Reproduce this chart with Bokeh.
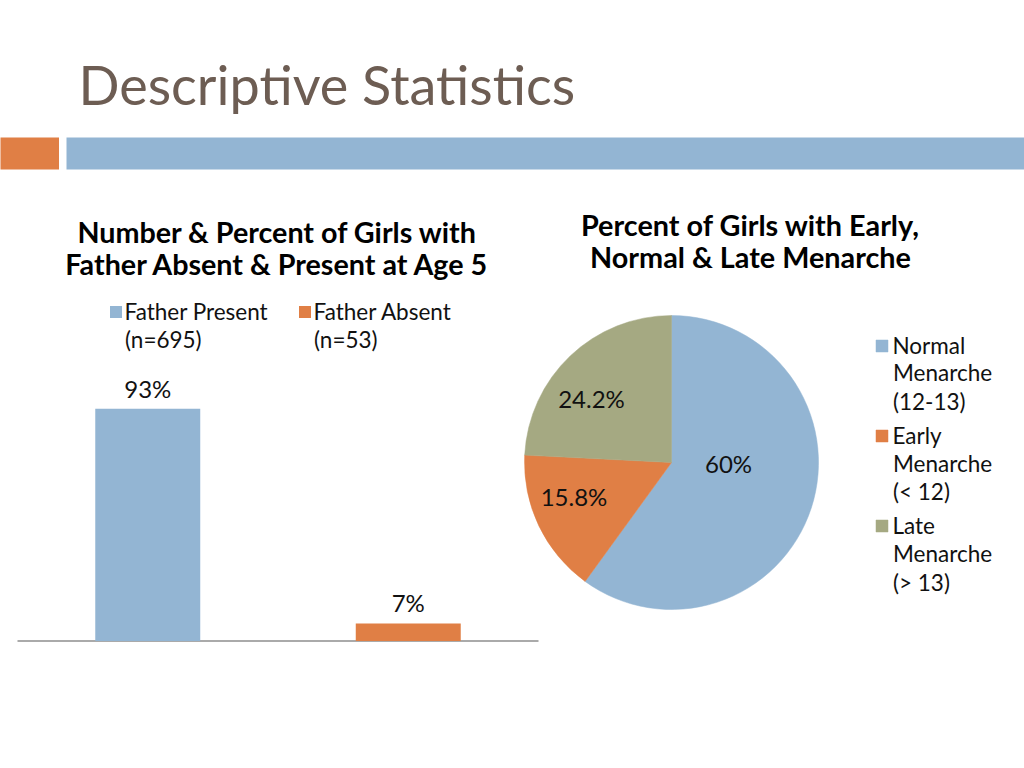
import numpy as np
from bokeh.plotting import figure
from bokeh.models import Range1d, Label, Legend, LegendItem, BoxAnnotation, ColumnDataSource
from bokeh.core.properties import value
from bokeh.embed import file_html
from bokeh.resources import INLINE

# ---------------- data ----------------
slide_title = "Descriptive Statistics"

bar_title = ["Number & Percent of Girls with", "Father Absent & Present at Age 5"]
bar_groups = ["Father Present", "Father Absent"]
bar_counts = [695, 53]
bar_percent = [93, 7]
bar_labels = ["93%", "7%"]

pie_title = ["Percent of Girls with Early,", "Normal & Late Menarche"]
pie_groups = ["Normal", "Early", "Late"]
pie_sub = [["Menarche", "(12-13)"], ["Menarche", "(< 12)"], ["Menarche", "(> 13)"]]
pie_percent = [60.0, 15.8, 24.2]
pie_labels = ["60%", "15.8%", "24.2%"]

# ---------------- style ----------------
BLUE = "#93B5D3"
ORANGE = "#E07F45"
GREEN = "#A5A982"
TITLE_C = "#6D5D53"
TXT = "#111111"
FONT = "Lato"
LEG_PX = 22.5
LEG_FS = f"{LEG_PX}px"
LINE_PITCH = 28.5
CAP = 0.36  # cap-centre above baseline, in em

W, H = 1024, 768
OX, OY = 0, 0  # page offset of the figure


def Y(py):
    return (OY + H) - py


def base_label(x, baseline, text, size, align="left", bold=False, color=TXT):
    """Label whose baseline sits at page y = baseline (placed by its cap centre)."""
    return Label(x=x, y=Y(baseline - CAP * size), text=text, text_font=FONT,
                 text_font_size=f"{size}px", text_align=align, text_baseline="middle",
                 text_font_style="bold" if bold else "normal", text_color=color)


p = figure(width=W, height=H, x_range=Range1d(OX, OX + W), y_range=Range1d(0, H),
           min_border=0, toolbar_location=None, output_backend="svg",
           x_axis_type=None, y_axis_type=None)
p.grid.visible = False
p.outline_line_color = None
p.background_fill_color = "white"

# ---------------- header ----------------
p.add_layout(base_label(78, 103, slide_title, 54, color=TITLE_C))
p.add_layout(BoxAnnotation(left=-5, right=58.5, top=Y(137), bottom=Y(169),
                           fill_color=ORANGE, fill_alpha=1, line_color=None))
p.add_layout(BoxAnnotation(left=66, right=1030, top=Y(137), bottom=Y(169),
                           fill_color=BLUE, fill_alpha=1, line_color=None))

# ---------------- bar chart ----------------
AX_L, AX_R, BASE_Y = 17, 538, 640.5
PX_PER = 2.497
n = len(bar_groups)
slot = (AX_R - AX_L) / n
c0 = AX_L + slot / 2
p.extra_x_ranges = {"bar": Range1d((OX - c0) / slot, (OX + W - c0) / slot)}
p.extra_y_ranges = {"bar": Range1d(-(OY + H - BASE_Y) / PX_PER, (BASE_Y - OY) / PX_PER)}

idx = list(range(n))
bar_colors = [BLUE, ORANGE]
bar_src = ColumnDataSource(dict(x=idx, top=bar_percent, color=bar_colors, lab=bar_labels))

p.segment(x0=[-0.5], x1=[n - 0.5], y0=[0], y1=[0], x_range_name="bar", y_range_name="bar",
          line_color="#8E8E8E", line_width=1.5)
bars = p.vbar(x="x", top="top", bottom=0, width=0.403, fill_color="color", line_color=None,
              source=bar_src, x_range_name="bar", y_range_name="bar")
VAL_PX = 24
p.text(x="x", y="top", text="lab", source=bar_src, x_range_name="bar", y_range_name="bar",
       text_align="center", text_baseline="middle", y_offset=-(12 + CAP * VAL_PX),
       text_font=value(FONT), text_font_size=f"{VAL_PX}px", text_color=TXT)

for line, py in zip(bar_title, [242.3, 274.3]):
    p.add_layout(base_label(277, py, line, 28.7, align="center", bold=True, color="#000000"))

ITEM_H = 27.6
bar_items = [LegendItem(label=g, renderers=[bars], index=i) for i, g in enumerate(bar_groups)]
bar_leg = Legend(items=bar_items, orientation="horizontal",
                 location=(107.5 - OX, (OY + H) - (311 + ITEM_H / 2)),
                 glyph_width=15, glyph_height=15, label_standoff=2, label_width=172, spacing=0,
                 padding=0, margin=0, border_line_color=None, background_fill_alpha=0,
                 label_text_font=FONT, label_text_font_size=LEG_FS, label_text_color=TXT)
p.add_layout(bar_leg)
for tx, c in zip([124.5, 313.5], bar_counts):
    p.add_layout(base_label(tx, 319 + LINE_PITCH, f"(n={c})", LEG_PX))

# ---------------- pie chart ----------------
CX, CY, R = 671, 462, 147
frac = np.array(pie_percent) / 100.0
cum = np.concatenate([[0], np.cumsum(frac)[:-1]])
start = np.pi / 2 - 2 * np.pi * cum
end = start - 2 * np.pi * frac
pie_colors = [BLUE, ORANGE, GREEN]
pie_src = ColumnDataSource(dict(start=start, end=end, color=pie_colors,
                                x=[CX] * len(frac), y=[Y(CY)] * len(frac)))
wedges = p.wedge(x="x", y="y", radius=R, start_angle="start", end_angle="end", direction="clock",
                 fill_color="color", line_color="color", line_width=0.5, source=pie_src)

# label anchor positions (layout): centre x, baseline y
pie_label_pos = [(728, 472), (573.5, 505), (591, 407)]
for t, (lx, ly) in zip(pie_labels, pie_label_pos):
    p.add_layout(base_label(lx, ly, t, VAL_PX, align="center"))

for line, py in zip(pie_title, [235, 266.5]):
    p.add_layout(base_label(750, py, line, 28.8, align="center", bold=True, color="#000000"))

ITEM_PITCH = 90.6
GAP = int(round(ITEM_PITCH - ITEM_H))
pie_items = [LegendItem(label=g, renderers=[wedges], index=i) for i, g in enumerate(pie_groups)]
leg_top = 344 - ITEM_H / 2
leg_h = len(pie_groups) * ITEM_H + (len(pie_groups) - 1) * GAP
pie_leg = Legend(items=pie_items, orientation="vertical",
                 location=(873.5 - OX, (OY + H) - (leg_top + leg_h)),
                 glyph_width=15, glyph_height=15, label_standoff=4, spacing=GAP,
                 padding=0, margin=0, border_line_color=None, background_fill_alpha=0,
                 label_text_font=FONT, label_text_font_size=LEG_FS, label_text_color=TXT)
p.add_layout(pie_leg)
for k, subs in enumerate(pie_sub):
    base = 351.7 + k * ITEM_PITCH
    for j, s in enumerate(subs):
        p.add_layout(base_label(892.5, base + (j + 1) * LINE_PITCH, s, LEG_PX))

open("out.html", "w").write(file_html(p, INLINE))
